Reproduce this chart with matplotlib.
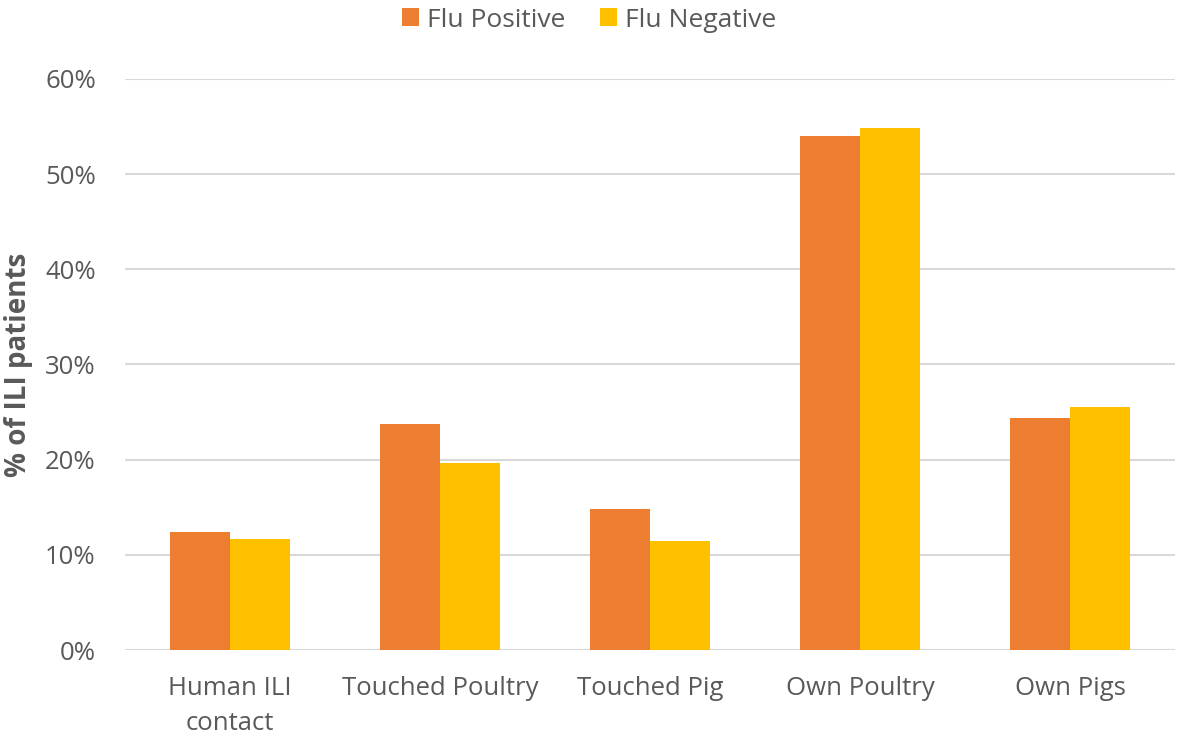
import numpy as np
import matplotlib.pyplot as plt
from matplotlib.ticker import PercentFormatter

categories = ['Human ILI\ncontact', 'Touched Poultry', 'Touched Pig', 'Own Poultry', 'Own Pigs']
flu_pos = [12.4, 23.8, 14.8, 54.0, 24.4]
flu_neg = [11.7, 19.6, 11.5, 54.8, 25.5]

txt = '#595959'
plt.rcParams['font.family'] = ['Open Sans', 'DejaVu Sans']

fig = plt.figure(figsize=(11.81, 7.38), dpi=100)
ax = fig.add_axes([0.1058, 0.1192, 0.8892, 0.7738])

x = np.arange(len(categories))
w = 0.286
ax.bar(x - w / 2, flu_pos, w, color='#ED7D31', label='Flu Positive', zorder=3)
ax.bar(x + w / 2, flu_neg, w, color='#FFC000', label='Flu Negative', zorder=3)

ax.set_xlim(-0.5, len(categories) - 0.5)
ax.set_ylim(0, 60)
ax.set_yticks(range(0, 61, 10))
ax.yaxis.set_major_formatter(PercentFormatter(decimals=0))
ax.yaxis.grid(True, color='#D9D9D9', linewidth=1.5, zorder=0)
ax.set_xticks(x)
ax.set_xticklabels(categories, linespacing=1.5)
ax.tick_params(axis='both', length=0, labelsize=18.5, colors=txt)
ax.tick_params(axis='y', pad=21)
ax.tick_params(axis='x', pad=19)
for s in ax.spines.values():
    s.set_visible(False)

ax.set_ylabel('% of ILI patients', fontsize=20, fontweight='bold', color=txt)
ax.yaxis.set_label_coords(-0.088, 0.5)

leg = fig.legend(loc='upper center', bbox_to_anchor=(0.499, 1.022), ncol=2, frameon=False,
                 handlelength=0.65, handleheight=0.65, handletextpad=0.3,
                 columnspacing=1.3, labelcolor=txt,
                 prop={'family': ['Open Sans'], 'size': 19})

fig.savefig('out.png', dpi=100)
